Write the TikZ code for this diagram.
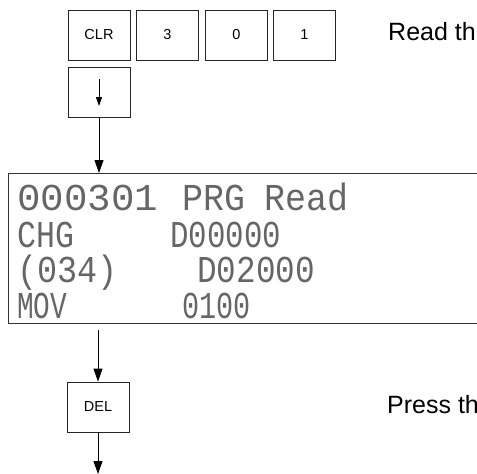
\documentclass[tikz,border=0pt]{standalone}
\usepackage{fontspec}
\usepackage{graphicx}
\setmainfont{Liberation Sans}
\newfontfamily\lcdfont{Liberation Mono}
\usetikzlibrary{arrows.meta}
\begin{document}
\begin{tikzpicture}[x=1pt,y=-1pt,
  key/.style={draw=black!85, line width=0.9pt, minimum width=62pt, minimum height=50pt, inner sep=0pt, font=\fontsize{14.5}{16}\selectfont},
  flow/.style={-{Triangle[length=13pt,width=9pt]}, line width=0.9pt},
  smallflow/.style={-{Triangle[length=9pt,width=6pt]}, line width=0.9pt},
  panelbox/.style={draw=black!80, line width=1.4pt, anchor=north west, minimum width=500pt, minimum height=150pt, inner sep=0pt},
  lcd/.style={anchor=base west, inner sep=0pt, text=black!60, font=\lcdfont\fontsize{38}{40}\selectfont},
  note/.style={anchor=base west, inner sep=0pt, font=\fontsize{25}{28}\selectfont}]
\clip (0,0) rectangle (477,474);
% keys
\node[key] (clr) at (99,35) {CLR};
\node[key] (k3) at (167.5,35) {3};
\node[key] (k0) at (236.5,35) {0};
\node[key] (k1) at (304.5,35) {1};
\node[key] (down) at (99,92) {};
\coordinate (da) at (99,79);
\coordinate (db) at (99,106);
\draw[smallflow] (da) -- (db);
% notes
\node[note] (read) at (388,40) {Read th};
\node[note] (press) at (387,413) {Press th};
% panel
\node[panelbox] (panel) at (8,173) {};
\node[lcd] (l1a) at (17,210) {\scalebox{1.03}[1]{000301}};
\node[lcd] (l1b) at (182,210) {\scalebox{0.92}[1]{PRG}};
\node[lcd] (l1c) at (264,210) {\scalebox{0.92}[1]{Read}};
\node[lcd] (l2a) at (17,247) {\scalebox{0.83}[1]{CHG}};
\node[lcd] (l2b) at (170,247) {\scalebox{0.81}[1]{D00000}};
\node[lcd] (l3a) at (17,282) {\scalebox{0.88}[1]{(034)}};
\node[lcd] (l3b) at (197,282) {\scalebox{0.86}[1]{D02000}};
\node[lcd] (l4a) at (17,318) {\scalebox{0.73}[1]{MOV}};
\node[lcd] (l4b) at (182,318) {\scalebox{0.75}[1]{0100}};
% DEL
\node[key] (del) at (98,407) {DEL};
\coordinate (end) at (98,474);
% connectors
\draw[flow] (down.south) -- (down.south |- panel.north);
\draw[flow, shorten <=6pt] (del.north |- panel.south) -- (del.north);
\draw[flow] (del.south) -- (end);
\end{tikzpicture}
\end{document}
